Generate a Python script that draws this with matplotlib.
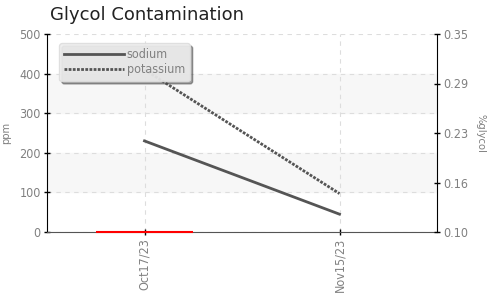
import matplotlib.pyplot as plt
import matplotlib.font_manager as fm

# Dados
datas = ['Oct17/23', 'Nov15/23']
sodium = [230, 45]
potassium = [410, 97]
glycol = [0.10]          # barra de glicol (zero acima da base)
glycol_pos = [0]

nomes = {f.name for f in fm.fontManager.ttflist}
narrow = 'Liberation Sans Narrow' if 'Liberation Sans Narrow' in nomes else 'DejaVu Sans'
fonte = {'family': narrow, 'stretch': 'condensed'}
cinza = '#808080'

fig = plt.figure(figsize=(4.88, 2.97), dpi=100)
ax = fig.add_axes([47 / 488, 1 - 232 / 297, 390 / 488, 198 / 297])
ax2 = ax.twinx()

x = list(range(len(datas)))

# faixas alternadas de fundo
for y0 in [100, 300]:
    ax.axhspan(y0, y0 + 100, color='#f7f7f7', zorder=0)

ax.plot(x, sodium, color='#555555', lw=2, label='sodium', zorder=3)
ax.plot(x, potassium, color='#555555', lw=2, ls=(0, (1, 0.5)), label='potassium', zorder=3)

ax2.bar(glycol_pos, [g - 0.10 for g in glycol], bottom=0.10, width=0.5,
        color='red', edgecolor='red', lw=1.5, zorder=4, clip_on=False)

ax.set_xlim(-0.5, 1.5)
ax.set_ylim(0, 500)
ax2.set_ylim(0.10, 0.35)

ax.set_xticks(x)
ax.set_xticklabels(datas, rotation=90, fontsize=9, color=cinza, **fonte)
ax.set_yticks([0, 100, 200, 300, 400, 500])
ax.set_yticklabels(['0', '100', '200', '300', '400', '500'], fontsize=9, color=cinza, **fonte)
ax2.set_yticks([0.10, 0.1625, 0.225, 0.2875, 0.35])
ax2.set_yticklabels(['0.10', '0.16', '0.23', '0.29', '0.35'], fontsize=9, color=cinza, **fonte)

ax.grid(True, ls=(0, (4, 4)), color='#dddddd', lw=0.8)
ax.set_axisbelow(True)

for a in (ax, ax2):
    a.spines['top'].set_visible(False)
    a.tick_params(direction='inout', length=5, width=1, pad=2)
ax.spines['left'].set_color('black')
ax2.spines['right'].set_color('black')
ax.spines['bottom'].set_color('#555555')
ax2.spines['bottom'].set_visible(False)
ax2.spines['left'].set_visible(False)
ax.spines['right'].set_visible(False)

ax.set_ylabel('ppm', fontsize=8, color=cinza, labelpad=6, **fonte)
ax2.set_ylabel('%glycol', fontsize=8, color=cinza, rotation=270, labelpad=12, **fonte)

fig.text(50 / 488, 1 - 15 / 297, 'Glycol Contamination', fontsize=13, va='center', ha='left',
         color='#222222')

leg = ax.legend(loc='upper left', bbox_to_anchor=(0.015, 0.985), fancybox=True, shadow=True,
                facecolor='#eeeeee', edgecolor='#dddddd', framealpha=0.9,
                prop={'family': narrow, 'stretch': 'condensed', 'size': 9},
                handlelength=4.8, handletextpad=0.2,
                borderpad=0.4, labelspacing=0.15)
for t in leg.get_texts():
    t.set_color(cinza)
leg.set_zorder(10)

plt.savefig('out.png', dpi=100)
plt.close()
